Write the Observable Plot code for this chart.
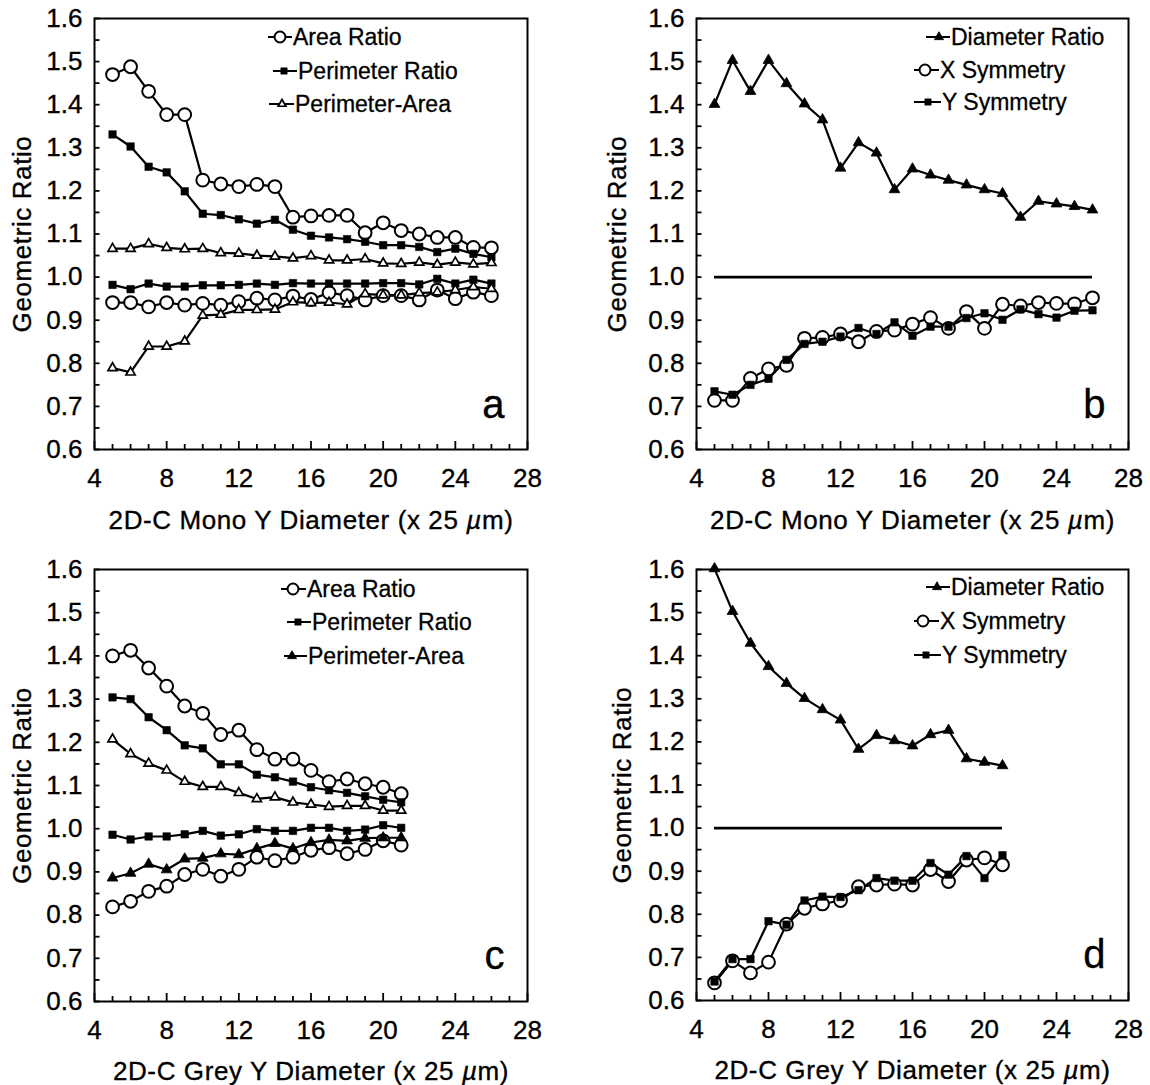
<!DOCTYPE html>
<html>
<head>
<meta charset="utf-8">
<script src="https://cdn.jsdelivr.net/npm/d3@7"></script>
<script src="https://cdn.jsdelivr.net/npm/@observablehq/plot@0.6"></script>
<style>
  body { margin: 0; background: #fff; }
  #wrap { position: relative; width: 1150px; height: 1085px; background: #fff; overflow: hidden; }
  #wrap svg { position: absolute; }
</style>
</head>
<body>
<div id="wrap"></div>
<script>
// ---------------- DATA ----------------
const xMono = [5,6,7,8,9,10,11,12,13,14,15,16,17,18,19,20,21,22,23,24,25,26];
const xGrey = [5,6,7,8,9,10,11,12,13,14,15,16,17,18,19,20,21];

const xTicks = [4,8,12,16,20,24,28];
const xMinorTicks = [5,6,7,9,10,11,13,14,15,17,18,19,21,22,23,25,26,27];
const yTicks = [0.6,0.7,0.8,0.9,1.0,1.1,1.2,1.3,1.4,1.5,1.6];
const yMinorTicks = [0.65,0.75,0.85,0.95,1.05,1.15,1.25,1.35,1.45,1.55];

const yTitle = "Geometric Ratio";
const xTitleMono = "2D-C Mono Y Diameter (x 25 \u00b5m)";
const xTitleGrey = "2D-C Grey Y Diameter (x 25 \u00b5m)";
const referenceValue = 1.0;

// panel a : 2D-C Mono
const aAreaHigh  = [1.470,1.488,1.431,1.377,1.377,1.225,1.216,1.210,1.215,1.210,1.139,1.142,1.143,1.143,1.103,1.126,1.108,1.100,1.092,1.092,1.069,1.068];
const aPerimHigh = [1.331,1.303,1.256,1.243,1.199,1.147,1.144,1.134,1.124,1.133,1.110,1.096,1.092,1.088,1.082,1.074,1.074,1.070,1.058,1.066,1.054,1.046];
const aPAHigh    = [1.066,1.066,1.077,1.068,1.065,1.066,1.056,1.055,1.050,1.048,1.044,1.049,1.039,1.039,1.042,1.032,1.031,1.034,1.029,1.034,1.030,1.033];
const aPerimLow  = [0.982,0.972,0.985,0.978,0.978,0.981,0.981,0.982,0.985,0.982,0.986,0.985,0.985,0.985,0.985,0.986,0.986,0.983,0.996,0.985,0.994,0.985];
const aAreaLow   = [0.941,0.941,0.931,0.941,0.935,0.939,0.935,0.943,0.951,0.947,0.956,0.948,0.964,0.957,0.947,0.957,0.957,0.947,0.970,0.950,0.965,0.957];
const aPALow     = [0.789,0.779,0.839,0.839,0.851,0.911,0.913,0.924,0.924,0.925,0.942,0.940,0.941,0.937,0.961,0.958,0.958,0.963,0.965,0.970,0.977,0.973];

// panel b : 2D-C Mono
const bDiameter = [1.401,1.503,1.431,1.503,1.449,1.402,1.365,1.253,1.312,1.288,1.203,1.251,1.237,1.225,1.214,1.203,1.194,1.139,1.176,1.170,1.164,1.156];
const bXSym     = [0.714,0.714,0.765,0.787,0.795,0.858,0.860,0.868,0.850,0.874,0.877,0.891,0.906,0.881,0.920,0.881,0.937,0.933,0.941,0.939,0.938,0.952];
const bYSym     = [0.735,0.727,0.750,0.764,0.808,0.845,0.850,0.862,0.882,0.868,0.895,0.864,0.885,0.885,0.905,0.916,0.901,0.925,0.914,0.906,0.922,0.923];

// panel c : 2D-C Grey
const cAreaHigh  = [1.400,1.413,1.372,1.330,1.284,1.267,1.218,1.228,1.183,1.161,1.161,1.135,1.109,1.115,1.104,1.096,1.081];
const cPerimHigh = [1.304,1.300,1.258,1.228,1.193,1.186,1.149,1.149,1.125,1.119,1.109,1.096,1.089,1.083,1.075,1.067,1.061];
const cPAHigh    = [1.207,1.173,1.151,1.135,1.109,1.097,1.097,1.083,1.069,1.073,1.061,1.056,1.051,1.053,1.053,1.042,1.042];
const cPerimLow  = [0.986,0.975,0.982,0.982,0.987,0.995,0.984,0.987,0.999,0.995,0.995,1.002,1.002,0.995,0.998,1.008,1.002];
const cPALow     = [0.886,0.897,0.918,0.905,0.930,0.932,0.942,0.940,0.954,0.966,0.954,0.968,0.974,0.972,0.978,0.979,0.979];
const cAreaLow   = [0.819,0.832,0.855,0.867,0.894,0.906,0.890,0.906,0.934,0.926,0.934,0.950,0.956,0.942,0.952,0.972,0.962];

// panel d : 2D-C Grey
const dDiameter = [1.602,1.503,1.429,1.375,1.336,1.301,1.275,1.251,1.183,1.215,1.203,1.191,1.217,1.227,1.161,1.153,1.145];
const dXSym     = [0.641,0.692,0.664,0.689,0.777,0.814,0.824,0.832,0.864,0.868,0.870,0.868,0.904,0.876,0.926,0.931,0.915];
const dYSym     = [0.644,0.696,0.696,0.784,0.776,0.832,0.841,0.840,0.856,0.884,0.878,0.878,0.919,0.892,0.935,0.884,0.937];

// ---------------- STYLES ----------------
const FONT = '"Liberation Sans", Arial, Helvetica, sans-serif';
const MARK = {
  circle:   {symbol: "circle",   r: 6.4, fill: "white", strokeWidth: 2},
  square:   {symbol: "square",   r: 4.2, fill: "black", strokeWidth: 0.6},
  triOpen:  {symbol: "triangle", r: 3.4, fill: "white", strokeWidth: 1.7},
  triFill:  {symbol: "triangle", r: 4.0, fill: "black", strokeWidth: 0.8}
};

function panel(cfg) {
  const L = cfg.layout;
  const fw = L.width - L.ml - L.mr;
  const fh = L.height - L.mt - L.mb;
  const marks = [];
  // inward ticks along the bottom and left edges of the frame
  marks.push(Plot.ruleX(xMinorTicks, {x: d => d, insetTop: fh - 5, stroke: "black", strokeWidth: 1.8}));
  marks.push(Plot.ruleX(xTicks, {x: d => d, insetTop: fh - 8, stroke: "black", strokeWidth: 1.8}));
  marks.push(Plot.ruleY(yMinorTicks.concat(yTicks), {y: d => d, insetRight: fw - 5.5, stroke: "black", strokeWidth: 1.8}));
  // tick labels
  marks.push(Plot.axisX({ticks: xTicks, tickSize: 0, tickPadding: 19, label: null, fontSize: 26}));
  marks.push(Plot.axisY({ticks: yTicks, tickSize: 0, tickPadding: 12, tickFormat: d3.format(".1f"), label: null, fontSize: 26}));
  // series lines
  for (const s of cfg.series) {
    const data = s.values.map((v, i) => [cfg.xs[i], v]);
    marks.push(Plot.line(data, {stroke: "black", strokeWidth: 2.2}));
  }
  if (cfg.ref) {
    marks.push(Plot.ruleY([referenceValue], {x1: cfg.xs[0], x2: cfg.xs[cfg.xs.length - 1], stroke: "black", strokeWidth: 2.6}));
  }
  // markers
  for (const s of cfg.series) {
    const data = s.values.map((v, i) => [cfg.xs[i], v]);
    const m = MARK[s.mark];
    marks.push(Plot.dot(data, {x: d => d[0], y: d => d[1], symbol: m.symbol, r: m.r, fill: m.fill, stroke: "black", strokeWidth: m.strokeWidth}));
  }
  marks.push(Plot.frame({stroke: "black", strokeWidth: 2}));
  // titles and panel letter
  marks.push(Plot.text([cfg.xTitle], {text: d => d, frameAnchor: "bottom", dy: L.xTitleDy, fontSize: 26, lineAnchor: "middle"}));
  marks.push(Plot.text([yTitle], {text: d => d, frameAnchor: "left", dx: L.yTitleDx, rotate: -90, fontSize: 26, lineAnchor: "middle", textAnchor: "middle"}));
  marks.push(Plot.text([cfg.letter], {text: d => d, frameAnchor: "bottom-right", dx: -23, dy: L.letterDy, fontSize: 40, textAnchor: "end", lineAnchor: "middle"}));

  const svg = Plot.plot({
    width: L.width, height: L.height,
    marginLeft: L.ml, marginRight: L.mr, marginTop: L.mt, marginBottom: L.mb,
    x: {domain: [4, 28]},
    y: {domain: [0.6, 1.6]},
    style: {fontFamily: FONT, fontSize: "26px", color: "black", background: "transparent", overflow: "visible"},
    marks
  });
  svg.style.left = L.left + "px";
  svg.style.top = L.top + "px";

  // text finishing: letter spacing, italic micro sign, slightly heavier strokes
  d3.select(svg).selectAll("text").each(function () {
    const el = d3.select(this);
    const t = this.textContent;
    el.attr("stroke", "black").attr("stroke-width", 0.35);
    if (t === yTitle) el.attr("letter-spacing", "0.6px");
    if (t === cfg.xTitle) {
      el.attr("letter-spacing", "0.6px");
      const i = t.indexOf("\u00b5");
      el.text(null);
      el.append("tspan").text(t.slice(0, i));
      el.append("tspan").attr("font-style", "italic").text("\u00b5");
      el.append("tspan").text(t.slice(i + 1));
    }
  });

  // legend (inside the frame, top-right)
  const g = d3.select(svg).append("g").attr("class", "legend");
  for (const it of cfg.legend) {
    g.append("line").attr("x1", it.lx1).attr("x2", it.lx2).attr("y1", it.y).attr("y2", it.y)
      .attr("stroke", "black").attr("stroke-width", 2);
    const m = MARK[it.mark];
    const rr = m.r * 0.85;
    const sym = {circle: d3.symbolCircle, square: d3.symbolSquare, triangle: d3.symbolTriangle}[m.symbol];
    g.append("path").attr("d", d3.symbol(sym, Math.PI * rr * rr)())
      .attr("transform", `translate(${it.mx},${it.y})`)
      .attr("fill", m.fill).attr("stroke", "black").attr("stroke-width", m.strokeWidth);
    g.append("text").attr("x", it.tx).attr("y", it.y).attr("dy", "0.35em")
      .attr("text-anchor", "start")
      .attr("font-family", FONT).attr("font-size", 23).attr("fill", "black")
      .attr("stroke", "black").attr("stroke-width", 0.3)
      .text(it.label);
  }
  return svg;
}

const layoutA = {left: 0,   top: 0,   width: 575, height: 540, ml: 94,  mr: 48, mt: 18, mb: 91, xTitleDy: 71, yTitleDx: -72, letterDy: -44};
const layoutB = {left: 575, top: 0,   width: 575, height: 540, ml: 121, mr: 22, mt: 18, mb: 91, xTitleDy: 71, yTitleDx: -79, letterDy: -44};
const layoutC = {left: 0,   top: 545, width: 575, height: 540, ml: 94,  mr: 48, mt: 24, mb: 84, xTitleDy: 70, yTitleDx: -72, letterDy: -45};
const layoutD = {left: 575, top: 545, width: 575, height: 540, ml: 121, mr: 22, mt: 24, mb: 85, xTitleDy: 70, yTitleDx: -74, letterDy: -45};

const wrap = document.getElementById("wrap");

wrap.appendChild(panel({
  layout: layoutA, xs: xMono, xTitle: xTitleMono, letter: "a", ref: false,
  series: [
    {values: aAreaHigh, mark: "circle"}, {values: aAreaLow, mark: "circle"},
    {values: aPerimHigh, mark: "square"}, {values: aPerimLow, mark: "square"},
    {values: aPAHigh, mark: "triOpen"}, {values: aPALow, mark: "triOpen"}
  ],
  legend: [
    {label: "Area Ratio", mark: "circle", mx: 280, lx1: 268, lx2: 292, tx: 293, y: 37},
    {label: "Perimeter Ratio", mark: "square", mx: 284, lx1: 273, lx2: 297, tx: 298, y: 71},
    {label: "Perimeter-Area", mark: "triOpen", mx: 282, lx1: 269, lx2: 294, tx: 295, y: 104}
  ]
}));

wrap.appendChild(panel({
  layout: layoutB, xs: xMono, xTitle: xTitleMono, letter: "b", ref: true,
  series: [
    {values: bDiameter, mark: "triFill"},
    {values: bXSym, mark: "circle"},
    {values: bYSym, mark: "square"}
  ],
  legend: [
    {label: "Diameter Ratio", mark: "triFill", mx: 364, lx1: 351, lx2: 375, tx: 376, y: 37},
    {label: "X Symmetry", mark: "circle", mx: 350, lx1: 339, lx2: 364, tx: 365, y: 70},
    {label: "Y Symmetry", mark: "square", mx: 353, lx1: 339, lx2: 366, tx: 367, y: 102}
  ]
}));

wrap.appendChild(panel({
  layout: layoutC, xs: xGrey, xTitle: xTitleGrey, letter: "c", ref: false,
  series: [
    {values: cAreaHigh, mark: "circle"}, {values: cAreaLow, mark: "circle"},
    {values: cPerimHigh, mark: "square"}, {values: cPerimLow, mark: "square"},
    {values: cPAHigh, mark: "triOpen"}, {values: cPALow, mark: "triFill"}
  ],
  legend: [
    {label: "Area Ratio", mark: "circle", mx: 293, lx1: 281, lx2: 306, tx: 307, y: 44},
    {label: "Perimeter Ratio", mark: "square", mx: 298, lx1: 287, lx2: 311, tx: 312, y: 77},
    {label: "Perimeter-Area", mark: "triFill", mx: 292, lx1: 284, lx2: 307, tx: 308, y: 111}
  ]
}));

wrap.appendChild(panel({
  layout: layoutD, xs: xGrey, xTitle: xTitleGrey, letter: "d", ref: true,
  series: [
    {values: dDiameter, mark: "triFill"},
    {values: dXSym, mark: "circle"},
    {values: dYSym, mark: "square"}
  ],
  legend: [
    {label: "Diameter Ratio", mark: "triFill", mx: 362, lx1: 351, lx2: 375, tx: 376, y: 42},
    {label: "X Symmetry", mark: "circle", mx: 348, lx1: 339, lx2: 364, tx: 365, y: 76},
    {label: "Y Symmetry", mark: "square", mx: 351, lx1: 339, lx2: 366, tx: 367, y: 110}
  ]
}));
</script>
</body>
</html>
